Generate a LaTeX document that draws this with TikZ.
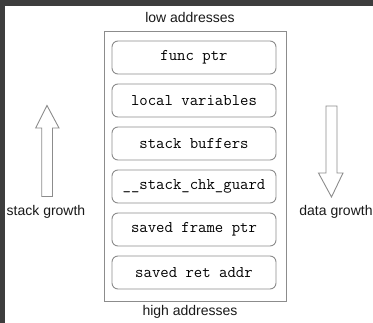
\documentclass[tikz,border=0pt]{standalone}
\usepackage{fontspec}
\setmainfont{Liberation Sans}
\begin{document}
\begin{tikzpicture}[x=1bp,y=-1bp,
  framebg/.style={fill=black!76},
  slot/.style={draw=black!45, line width=0.9bp, rounded corners=6bp, minimum width=164bp, minimum height=33bp, inner sep=0pt, font=\ttfamily\fontsize{16.3bp}{18bp}\selectfont, text=black},
  label/.style={font=\fontsize{14bp}{16bp}\selectfont, text=black!90, inner sep=0pt},
  blockarrow/.style={draw=black!45, line width=0.9bp, fill=white, line join=miter}]
\useasboundingbox (0,0) rectangle (373,323);
\fill[white] (0,0) rectangle (373,323);
\fill[framebg] (0,0) rectangle (373,6);
\fill[framebg] (0,0) rectangle (5,323);
% outer frame
\node[draw=black!45, line width=0.9bp, minimum width=182bp, minimum height=270bp, inner sep=0pt] (frame) at (195,166) {};
\node[label] (low) at (190,17) {low addresses};
\node[label] (high) at (190,312) {high addresses};
\node[slot] (s1) at (194,57.5) {func ptr};
\node[slot] (s2) at (194,100.5) {local variables};
\node[slot] (s3) at (194,143.5) {stack buffers};
\node[slot] (s4) at (194,186.5) {\_\_stack\_chk\_guard};
\node[slot] (s5) at (194,229.5) {saved frame ptr};
\node[slot] (s6) at (194,272.5) {saved ret addr};
% up arrow
\draw[blockarrow] (41.7,196.5) -- (41.7,128) -- (35.7,128) -- (47,105.5) -- (59,128) -- (52.5,128) -- (52.5,196.5) -- cycle;
\node[label] (sg) at (46,212) {stack growth};
% down arrow
\draw[blockarrow] (326,106) -- (326,173) -- (318.5,173) -- (331.5,197) -- (343,173) -- (337,173) -- (337,106) -- cycle;
\node[label] (dg) at (336,212) {data growth};
\end{tikzpicture}
\end{document}
